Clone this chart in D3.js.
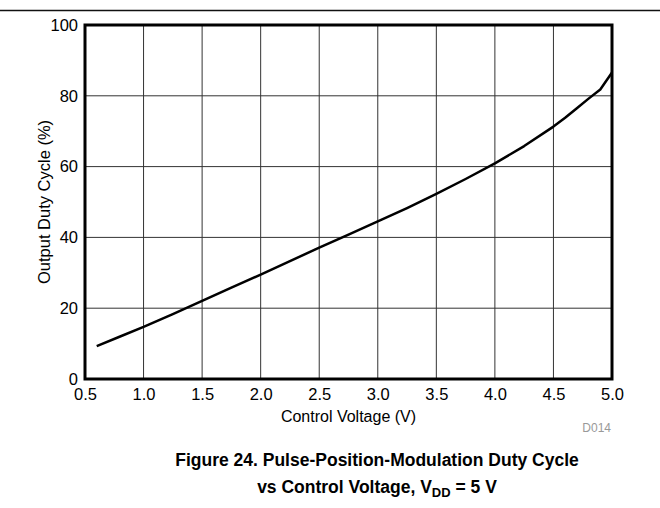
<!DOCTYPE html>
<html>
<head>
<meta charset="utf-8">
<script src="https://cdn.jsdelivr.net/npm/d3@7"></script>
<style>
  html, body { margin: 0; padding: 0; background: #fff; }
  svg { display: block; font-family: "Liberation Sans", Arial, sans-serif; }
</style>
</head>
<body>
<div id="chart"></div>
<script>
// control voltage (V) and output duty cycle (%)
const voltage = [0.6, 0.8, 1.0, 1.25, 1.5, 1.75, 2.0, 2.25, 2.5, 2.75, 3.0, 3.25, 3.5, 3.75, 4.0, 4.25, 4.5, 4.6, 4.7, 4.8, 4.9, 5.0];
const dutyCycle = [9.3, 12.0, 14.7, 18.3, 22.1, 25.8, 29.5, 33.3, 37.1, 40.8, 44.5, 48.3, 52.3, 56.5, 60.9, 65.8, 71.3, 73.8, 76.5, 79.2, 81.8, 86.6];

const xTicks = [0.5, 1.0, 1.5, 2.0, 2.5, 3.0, 3.5, 4.0, 4.5, 5.0];
const yTicks = [0, 20, 40, 60, 80, 100];

const width = 660, height = 508;
const plot = { left: 85, right: 612, top: 25, bottom: 379 };

const svg = d3.select("#chart")
  .append("svg")
  .attr("width", width)
  .attr("height", height);

// rule along the top of the page
svg.append("line")
  .attr("x1", 0).attr("x2", width)
  .attr("y1", 10.5).attr("y2", 10.5)
  .attr("stroke", "#111")
  .attr("stroke-width", 1.5);

const x = d3.scaleLinear().domain([0.5, 5.0]).range([plot.left, plot.right]);
const y = d3.scaleLinear().domain([0, 100]).range([plot.bottom, plot.top]);

// grid
svg.append("g")
  .selectAll("line")
  .data(xTicks.slice(1, -1))
  .enter()
  .append("line")
  .attr("x1", (d) => x(d)).attr("x2", (d) => x(d))
  .attr("y1", plot.top).attr("y2", plot.bottom)
  .attr("stroke", "#333")
  .attr("stroke-width", 1);

svg.append("g")
  .selectAll("line")
  .data(yTicks.slice(1, -1))
  .enter()
  .append("line")
  .attr("x1", plot.left).attr("x2", plot.right)
  .attr("y1", (d) => y(d)).attr("y2", (d) => y(d))
  .attr("stroke", "#333")
  .attr("stroke-width", 1);

// axes (labels only, the frame is drawn below)
const xAxis = svg.append("g")
  .attr("transform", `translate(0,${plot.bottom})`)
  .call(d3.axisBottom(x).tickValues(xTicks).tickFormat(d3.format(".1f")).tickSize(0).tickPadding(9));
const yAxis = svg.append("g")
  .attr("transform", `translate(${plot.left},0)`)
  .call(d3.axisLeft(y).tickValues(yTicks).tickSize(0).tickPadding(7));

[xAxis, yAxis].forEach((g) => {
  g.select(".domain").remove();
  g.selectAll("text")
    .attr("fill", "#000")
    .style("font-size", "16.5px")
    .style("font-family", "'Liberation Sans', Arial, sans-serif");
});

// frame
svg.append("rect")
  .attr("x", plot.left).attr("y", plot.top)
  .attr("width", plot.right - plot.left)
  .attr("height", plot.bottom - plot.top)
  .attr("fill", "none")
  .attr("stroke", "#000")
  .attr("stroke-width", 3);

// curve
const line = d3.line()
  .x((d, i) => x(voltage[i]))
  .y((d) => y(d));

svg.append("path")
  .datum(dutyCycle)
  .attr("d", line)
  .attr("fill", "none")
  .attr("stroke", "#000")
  .attr("stroke-width", 2.5)
  .attr("stroke-linejoin", "round");

// axis titles
svg.append("text")
  .attr("x", (plot.left + plot.right) / 2)
  .attr("y", 422)
  .attr("text-anchor", "middle")
  .style("font-size", "16px")
  .text("Control Voltage (V)");

svg.append("text")
  .attr("transform", `translate(50,${(plot.top + plot.bottom) / 2}) rotate(-90)`)
  .attr("text-anchor", "middle")
  .style("font-size", "16.5px")
  .text("Output Duty Cycle (%)");

svg.append("text")
  .attr("x", 611)
  .attr("y", 432)
  .attr("text-anchor", "end")
  .attr("fill", "#999")
  .style("font-size", "12px")
  .text("D014");

// caption
const caption = svg.append("g")
  .attr("font-weight", "bold")
  .style("font-size", "17.5px")
  .attr("text-anchor", "middle");

caption.append("text")
  .attr("x", 377)
  .attr("y", 466)
  .text("Figure 24. Pulse-Position-Modulation Duty Cycle");

const line2 = caption.append("text")
  .attr("x", 377)
  .attr("y", 493);
line2.append("tspan").text("vs Control Voltage, V");
line2.append("tspan").attr("dy", 4).style("font-size", "13px").text("DD");
line2.append("tspan").attr("dy", -4).text(" = 5 V");
</script>
</body>
</html>
